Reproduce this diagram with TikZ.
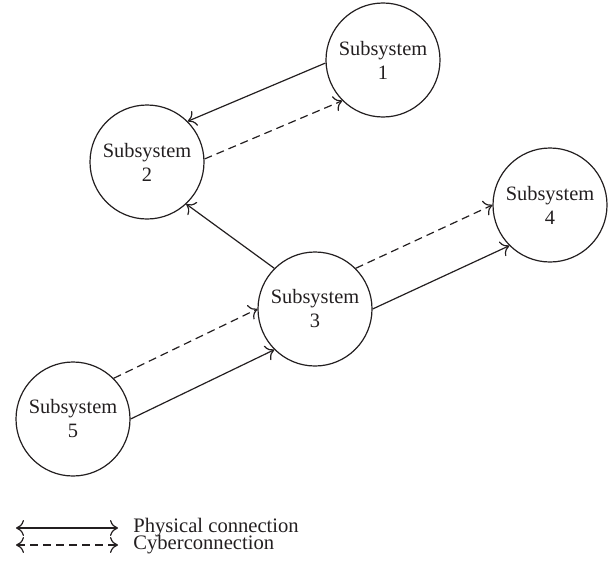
\documentclass[tikz,border=0pt]{standalone}
\usepackage{fontspec}
\setmainfont{Liberation Serif}
\usetikzlibrary{arrows.meta}
\definecolor{inkc}{RGB}{35,31,32}
\begin{document}
\begin{tikzpicture}[x=0.5pt,y=-0.5pt,
  >={Computer Modern Rightarrow[length=4pt,width=8pt]},
  sub/.style={draw=inkc,circle,minimum size=57pt,inner sep=0pt,align=center,
    font=\fontsize{10.2}{12}\selectfont,text=inkc,line width=0.6pt},
  phys/.style={draw=inkc,line width=0.6pt,->},
  cyber/.style={phys,dash pattern=on 4pt off 2.5pt},
  legtext/.style={anchor=west,inner sep=0pt,font=\fontsize{10.3}{12}\selectfont,text=inkc}]
\useasboundingbox (0,0) rectangle (613,567);
\node[sub] (s1) at (383,60) {Subsystem\\1};
\node[sub] (s2) at (147,162) {Subsystem\\2};
\node[sub] (s3) at (315,309) {Subsystem\\3};
\node[sub] (s4) at (550,205) {Subsystem\\4};
\node[sub] (s5) at (73,419) {Subsystem\\5};
\draw[phys] (s1.183) -- (s2.45);
\draw[cyber] (s2.3) -- (s1.225);
\draw[phys] (s3.135) -- (s2.-47);
\draw[cyber] (s3.45) -- (s4.180);
\draw[phys] (s3.0) -- (s4.225);
\draw[cyber] (s5.45) -- (s3.180);
\draw[phys] (s5.0) -- (s3.225);
% legend
\coordinate (pa) at (16,528);
\coordinate (pb) at (118,528);
\coordinate (ca) at (16,545);
\coordinate (cb) at (118,545);
\draw[phys,<->] (pa) -- (pb);
\draw[cyber,<->] (ca) -- (cb);
\node[legtext] (lp) at (133,528) {Physical connection};
\node[legtext] (lc) at (133,545) {Cyberconnection};
\end{tikzpicture}
\end{document}
